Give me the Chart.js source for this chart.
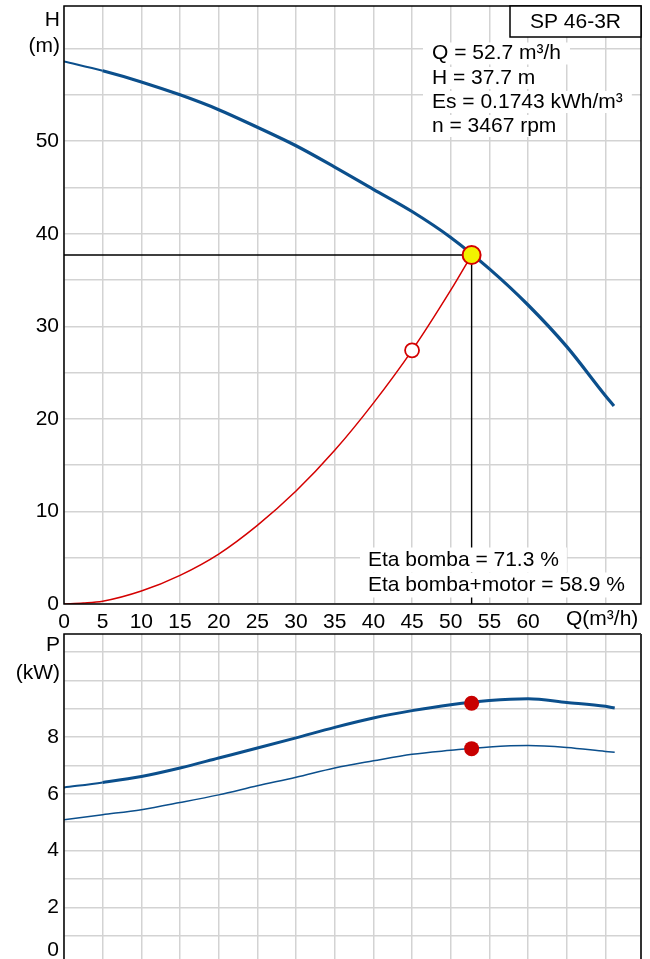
<!DOCTYPE html>
<html>
<head>
<meta charset="utf-8">
<script src="https://cdn.jsdelivr.net/npm/chart.js@4.4.1/dist/chart.umd.min.js"></script>
<style>
html, body { margin: 0; padding: 0; background: #fff; overflow: hidden; width: 650px; height: 959px; }
canvas { position: absolute; left: 0; }
#top { top: 0; }
#bot { top: 630px; }
</style>
</head>
<body>
<canvas id="top" width="650" height="632"></canvas>
<canvas id="bot" width="650" height="340"></canvas>
<script>
// =========================
// DATA
// =========================
const qPump = [0, 5, 10, 15, 20, 25, 30, 35, 40, 45, 50, 55, 60, 65, 70, 71.1];
const hPump = [58.6, 57.6, 56.4, 55.0, 53.4, 51.5, 49.5, 47.2, 44.8, 42.4, 39.6, 36.2, 32.3, 27.8, 22.5, 21.4];

const qSys = [0, 2.5, 5, 10, 15, 20, 25, 30, 35, 40, 45, 50, 52.7];
const hSys = [0, 0.1, 0.3, 1.4, 3.1, 5.4, 8.5, 12.2, 16.6, 21.7, 27.4, 33.9, 37.7];

const qPow = [0, 5, 10, 15, 20, 25, 30, 35, 40, 45, 50, 55, 60, 65, 70, 71.2];
const p1Pow = [6.22, 6.40, 6.61, 6.91, 7.26, 7.61, 7.97, 8.34, 8.67, 8.93, 9.14, 9.29, 9.35, 9.22, 9.08, 9.02];
const p2Pow = [5.08, 5.26, 5.44, 5.69, 5.96, 6.28, 6.58, 6.91, 7.16, 7.39, 7.53, 7.65, 7.70, 7.63, 7.49, 7.46];

const opQ = 52.7, opH = 37.7, opP1 = 9.19, opP2 = 7.59;
const markQ = 45, markH = 27.4;

const qMax = 74.6, hMax = 64.6, pMax = 11.63;
const qLastLabel = 60, hLastLabel = 50, pLastLabel = 8;

const pumpName = "SP 46-3R";
const infoLines = ["Q = 52.7 m³/h", "H = 37.7 m", "Es = 0.1743 kWh/m³", "n = 3467 rpm"];
const etaLines = ["Eta bomba = 71.3 %", "Eta bomba+motor = 58.9 %"];

// =========================
// STYLE
// =========================
const FONT = "'Liberation Sans', Arial, sans-serif";
Chart.defaults.font.family = FONT;
Chart.defaults.font.size = 21;
Chart.defaults.color = "#000";

const gridCol = "#d3d3d3";
const blue = "#0b4f8c";
const red = "#d40000";

function pts(xs, ys) {
    return xs.map((x, i) => ({ x: x, y: ys[i] }));
}

function textBg(ctx, txt, x, y, padL, padR, halfH) {
    const w = ctx.measureText(txt).width;
    ctx.fillStyle = "#fff";
    ctx.fillRect(x - padL, y - halfH, w + padL + padR, halfH * 2);
    ctx.fillStyle = "#000";
    ctx.fillText(txt, x, y);
}

// no extra room for end labels, chart area is set by padding only
function fitY(s) {
    s.width = 64;
    s.paddingTop = 0;
    s.paddingBottom = 0;
}

function fitX(h) {
    return s => {
        s.height = h;
        s.paddingLeft = 0;
        s.paddingRight = 0;
    };
}

// frame + texts, top panel
const topDeco = {
    id: "topDeco",
    afterDatasetsDraw(chart) {
        const ctx = chart.ctx;
        ctx.save();
        ctx.font = "21px " + FONT;
        ctx.textBaseline = "middle";
        ctx.textAlign = "left";
        const infoY = [53.5, 78, 102, 126];
        infoLines.forEach((t, i) => textBg(ctx, t, 432, infoY[i], 9, 9, 11));
        const etaY = [560, 585];
        etaLines.forEach((t, i) => textBg(ctx, t, 368, etaY[i], 8, 8, 12.5));
        ctx.restore();
    },
    afterDraw(chart) {
        const ctx = chart.ctx;
        const a = chart.chartArea;
        ctx.save();
        ctx.strokeStyle = "#000";
        ctx.lineWidth = 1.5;
        ctx.strokeRect(a.left, a.top, a.right - a.left, a.bottom - a.top);

        // pump name box
        ctx.fillStyle = "#fff";
        ctx.fillRect(510, a.top, a.right - 510, 31);
        ctx.strokeRect(510, a.top, a.right - 510, 31);
        ctx.fillStyle = "#000";
        ctx.font = "21px " + FONT;
        ctx.textBaseline = "middle";
        ctx.textAlign = "center";
        ctx.fillText(pumpName, (510 + a.right) / 2, a.top + 16);

        // axis titles
        ctx.textAlign = "right";
        ctx.fillText("H", 60, 20);
        ctx.fillText("(m)", 60, 46);
        ctx.textAlign = "left";
        ctx.fillText("Q(m³/h)", 566, 619);
        ctx.restore();
    }
};

const botDeco = {
    id: "botDeco",
    afterDraw(chart) {
        const ctx = chart.ctx;
        const a = chart.chartArea;
        ctx.save();
        ctx.lineWidth = 1.5;
        ctx.strokeStyle = "#000";
        ctx.beginPath();
        ctx.moveTo(a.left, a.bottom);
        ctx.lineTo(a.left, a.top);
        ctx.lineTo(a.right, a.top);
        ctx.stroke();
        ctx.strokeStyle = "#333";
        ctx.lineWidth = 2;
        ctx.beginPath();
        ctx.moveTo(a.right, a.top);
        ctx.lineTo(a.right, a.bottom);
        ctx.stroke();

        ctx.fillStyle = "#000";
        ctx.font = "21px " + FONT;
        ctx.textBaseline = "middle";
        ctx.textAlign = "right";
        ctx.fillText("P", 60, 15.5);
        ctx.fillText("(kW)", 60, 43);
        // zero label kept inside the visible area
        const y0 = Math.min(chart.scales.y.getPixelForValue(0), 320);
        ctx.fillText("0", 59, y0);
        ctx.restore();
    }
};

// =========================
// TOP CHART: H(Q)
// =========================
new Chart(document.getElementById("top"), {
    type: "line",
    data: {
        datasets: [
            { data: pts([0, opQ, opQ], [opH, opH, 0]), borderColor: "#000", borderWidth: 1.4, pointRadius: 0, tension: 0, order: 4 },
            { data: pts(qSys, hSys), borderColor: red, borderWidth: 1.5, pointRadius: 0, cubicInterpolationMode: "monotone", order: 3 },
            {
                data: pts(qPump, hPump), borderColor: blue, borderWidth: 3.2, pointRadius: 0,
                cubicInterpolationMode: "monotone", order: 2,
                segment: { borderWidth: c => (c.p0.parsed.x < 5 ? 2 : 3.2) }
            },
            { data: [{ x: markQ, y: markH }], showLine: false, pointRadius: 7, pointBackgroundColor: "#fff", pointBorderColor: red, pointBorderWidth: 1.8, order: 1 },
            { data: [{ x: opQ, y: opH }], showLine: false, pointRadius: 9, pointBackgroundColor: "#f2f200", pointBorderColor: red, pointBorderWidth: 2, order: 0 }
        ]
    },
    options: {
        responsive: false,
        animation: false,
        events: [],
        plugins: { legend: { display: false }, tooltip: { enabled: false } },
        layout: { autoPadding: false, padding: { top: 6, right: 9, left: 0, bottom: 0 } },
        scales: {
            x: {
                type: "linear", min: 0, max: qMax,
                grid: { color: gridCol, lineWidth: 1.5, drawTicks: false },
                border: { display: false },
                ticks: {
                    stepSize: 5, includeBounds: false, autoSkip: false, maxRotation: 0, padding: 6,
                    callback: v => (v <= qLastLabel ? String(v) : "")
                },
                afterFit: fitX(28)
            },
            y: {
                type: "linear", min: 0, max: hMax,
                grid: { color: gridCol, lineWidth: 1.5, drawTicks: false },
                border: { display: false },
                ticks: {
                    stepSize: 5, includeBounds: false, autoSkip: false, padding: 5,
                    callback: v => (v % 10 === 0 && v <= hLastLabel ? String(v) : "")
                },
                afterFit: fitY
            }
        }
    },
    plugins: [topDeco]
});

// =========================
// BOTTOM CHART: P(Q)
// =========================
new Chart(document.getElementById("bot"), {
    type: "line",
    data: {
        datasets: [
            {
                data: pts(qPow, p1Pow), borderColor: blue, borderWidth: 3, pointRadius: 0,
                cubicInterpolationMode: "monotone", order: 3,
                segment: { borderWidth: c => (c.p0.parsed.x < 5 ? 2 : 3) }
            },
            { data: pts(qPow, p2Pow), borderColor: blue, borderWidth: 1.5, pointRadius: 0, cubicInterpolationMode: "monotone", order: 2 },
            { data: pts([opQ, opQ], [opP1, opP2]), showLine: false, pointRadius: 7.5, pointBackgroundColor: "#c80000", pointBorderColor: "#c80000", pointBorderWidth: 0, order: 0 }
        ]
    },
    options: {
        responsive: false,
        animation: false,
        events: [],
        plugins: { legend: { display: false }, tooltip: { enabled: false } },
        layout: { autoPadding: false, padding: { top: 4, right: 9, left: 0, bottom: 0 } },
        scales: {
            x: {
                type: "linear", min: 0, max: qMax,
                grid: { color: gridCol, lineWidth: 1.5, drawTicks: false },
                border: { display: false },
                ticks: { display: false, stepSize: 5, includeBounds: false },
                afterFit: fitX(6)
            },
            y: {
                type: "linear", min: 0, max: pMax,
                grid: { color: gridCol, lineWidth: 1.5, drawTicks: false },
                border: { display: false },
                ticks: {
                    stepSize: 1, includeBounds: false, autoSkip: false, padding: 5,
                    callback: v => (v % 2 === 0 && v > 0 && v <= pLastLabel ? String(v) : "")
                },
                afterFit: fitY
            }
        }
    },
    plugins: [botDeco]
});
</script>
</body>
</html>
